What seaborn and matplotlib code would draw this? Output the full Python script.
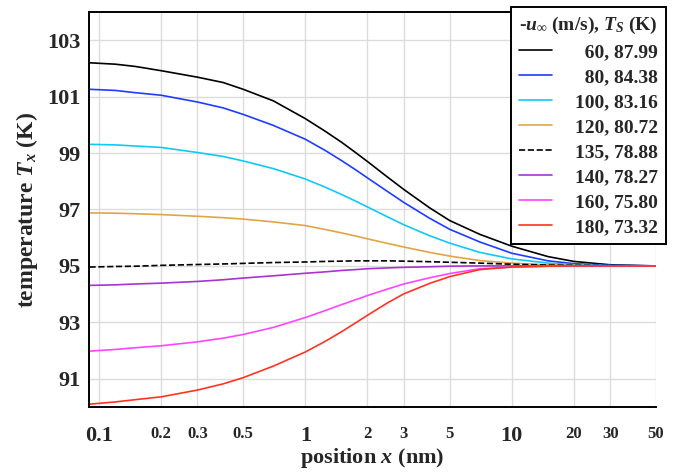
"""Temperature profiles T_x versus position for several u_inf values"""
import matplotlib
matplotlib.use("Agg")
import matplotlib.pyplot as plt
import matplotlib.ticker as mticker
import seaborn as sns

# Data
x_nm = [0.09, 0.12, 0.15, 0.2, 0.3, 0.4, 0.5, 0.7, 1, 1.25, 1.5, 1.75, 2, 2.5, 3, 4,
        5, 7, 10, 15, 20, 30, 50]
t_60 = [102.20, 102.15, 102.07, 101.92, 101.69, 101.50, 101.26, 100.85, 100.22, 99.77,
        99.38, 99.02, 98.70, 98.15, 97.71, 97.06, 96.61, 96.12, 95.70, 95.33, 95.16,
        95.04, 95.00]
t_80 = [101.26, 101.22, 101.14, 101.05, 100.81, 100.60, 100.37, 99.98, 99.49, 99.09,
        98.73, 98.41, 98.12, 97.64, 97.25, 96.69, 96.30, 95.85, 95.45, 95.18, 95.08,
        95.02, 95.00]
t_100 = [99.31, 99.29, 99.25, 99.20, 99.02, 98.88, 98.72, 98.45, 98.08, 97.79,
         97.53, 97.30, 97.09, 96.74, 96.46, 96.07, 95.81, 95.48, 95.25, 95.10, 95.04,
         95.01, 95.00]
t_120 = [96.88, 96.87, 96.85, 96.82, 96.76, 96.71, 96.66, 96.56, 96.43, 96.29,
         96.17, 96.06, 95.96, 95.80, 95.67, 95.48, 95.35, 95.19, 95.10, 95.04, 95.02,
         95.00, 95.00]
t_135 = [94.96, 94.98, 94.99, 95.02, 95.05, 95.07, 95.09, 95.12, 95.14, 95.16,
         95.17, 95.18, 95.18, 95.18, 95.17, 95.15, 95.13, 95.10, 95.06, 95.03, 95.02,
         95.01, 95.00]
t_140 = [94.31, 94.33, 94.36, 94.39, 94.45, 94.51, 94.57, 94.65, 94.74, 94.79,
         94.84, 94.87, 94.90, 94.93, 94.95, 94.97, 94.99, 95.00, 95.00, 95.00, 95.00,
         95.00, 95.00]
t_160 = [91.98, 92.04, 92.10, 92.17, 92.31, 92.44, 92.57, 92.82, 93.17, 93.42,
         93.63, 93.80, 93.95, 94.18, 94.36, 94.58, 94.73, 94.90, 94.96, 94.99, 95.00,
         95.00, 95.00]
t_180 = [90.10, 90.18, 90.26, 90.36, 90.60, 90.82, 91.04, 91.45, 91.95, 92.33,
         92.67, 92.98, 93.25, 93.69, 94.01, 94.38, 94.62, 94.87, 94.96, 94.99, 95.00,
         95.00, 95.00]

series = [t_60, t_80, t_100, t_120, t_135, t_140, t_160, t_180]
labels = ["\u200760, 87.99", "\u200780, 84.38", "100, 83.16", "120, 80.72",
          "135, 78.88", "140, 78.27", "160, 75.80", "180, 73.32"]
colors = ["black", "#1f3cff", "#12c8f5", "#e0a545", "black", "#a833d1", "#ff45ff", "#ff3322"]
styles = ["-", "-", "-", "-", "--", "-", "-", "-"]

x_ticks = [0.1, 0.2, 0.3, 0.5, 1, 2, 3, 5, 10, 20, 30, 50]
x_tick_labels = ["0.1", "0.2", "0.3", "0.5", "1", "2", "3", "5", "10", "20", "30", "50"]
x_big = ["0.1", "1", "10"]
y_ticks = [91, 93, 95, 97, 99, 101, 103]

sns.set_theme(style="white")
plt.rcParams["font.family"] = ["Liberation Serif", "DejaVu Serif"]
plt.rcParams["font.weight"] = "bold"
plt.rcParams["mathtext.fontset"] = "custom"
plt.rcParams["mathtext.rm"] = "Liberation Serif:bold"
plt.rcParams["mathtext.it"] = "Liberation Serif:italic:bold"
plt.rcParams["mathtext.bf"] = "Liberation Serif:bold"

fig, ax = plt.subplots(figsize=(6.8, 4.72), dpi=100)
fig.subplots_adjust(left=0.1309, right=0.9647, top=0.9746, bottom=0.1377)

for vals, lab, col, ls in zip(series, labels, colors, styles):
    sns.lineplot(x=x_nm, y=vals, ax=ax, color=col, linestyle=ls, lw=1.2, label=lab,
                 solid_joinstyle="round")

ax.set_xscale("log")
ax.set_xlim(0.0895, 50)
ax.set_ylim(90, 104)

ax.set_xticks(x_ticks)
ax.set_xticklabels(x_tick_labels)
for t in ax.get_xticklabels():
    t.set_fontsize(16 if t.get_text() in x_big else 12)
    t.set_fontweight("bold")
minor_x = [v * d for d in (0.1, 1, 10) for v in range(2, 10)
           if round(v * d, 3) not in x_ticks and v * d < 50]
ax.xaxis.set_minor_locator(mticker.FixedLocator(minor_x))
ax.xaxis.set_minor_formatter(mticker.NullFormatter())

ax.set_yticks(y_ticks)
ax.set_yticklabels([str(v) for v in y_ticks], fontsize=16, fontweight="bold")
ax.yaxis.set_minor_locator(mticker.FixedLocator([92, 94, 96, 98, 100, 102]))

ax.tick_params(axis="x", which="both", direction="in", length=5, width=1,
               color="black", pad=14)
ax.tick_params(axis="y", which="both", direction="in", length=5, width=1,
               color="black", pad=6)

ax.grid(True, which="major", color="#dcdcdc", lw=1)
for side in ["left", "bottom", "top"]:
    ax.spines[side].set_color("black")
    ax.spines[side].set_linewidth(1.4)
ax.spines["right"].set_visible(False)

ax.set_xlabel("position $x$ (nm)", fontsize=16, fontweight="bold", labelpad=0)
ax.set_ylabel("temperature $T_x$ (K)", fontsize=17, fontweight="bold", labelpad=5)

leg = ax.legend(title=r"-$u_\infty$ (m/s), $T_S$ (K)", loc="upper right",
                bbox_to_anchor=(666 / 680, 1 - 7 / 472), bbox_transform=fig.transFigure,
                borderaxespad=0, fontsize=14, title_fontsize=14, handlelength=1.7,
                labelspacing=0.38, fancybox=False, framealpha=1, edgecolor="black",
                borderpad=0.4, handletextpad=1.2)
leg.get_frame().set_linewidth(1.4)
for t in leg.get_texts():
    t.set_fontweight("bold")
leg.get_title().set_fontweight("bold")

fig.savefig("out.png", dpi=100)
